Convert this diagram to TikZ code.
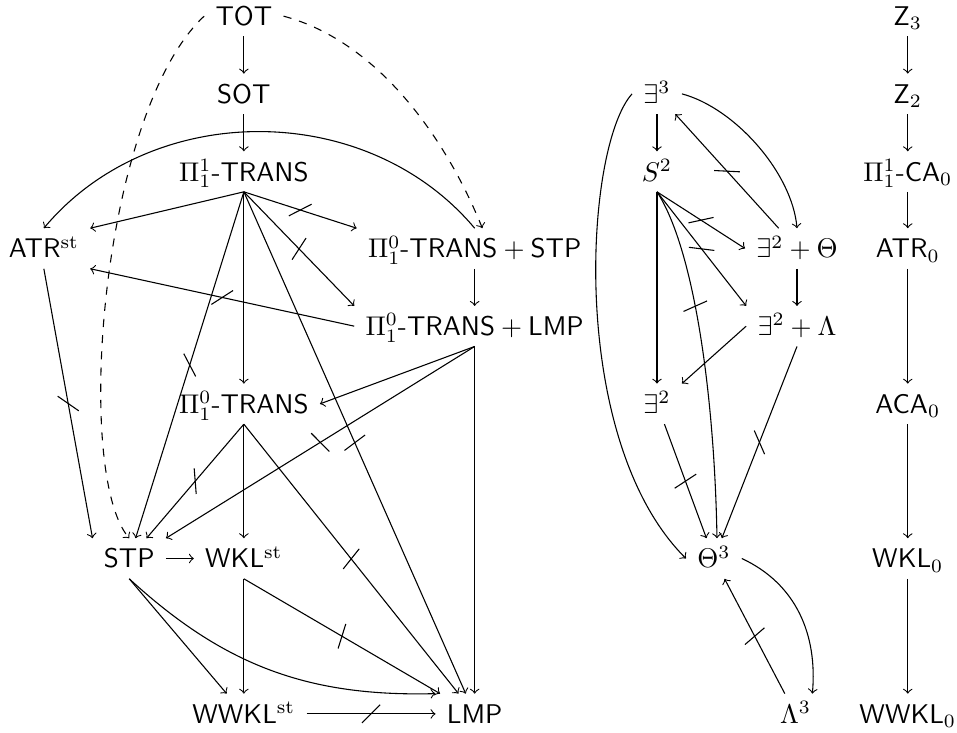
\documentclass[tikz,border=0pt]{standalone}
\usepackage{amsmath}
\usepackage{amsfonts}
\usepackage{tikz}

\tikzset{
	obj/.style={inner xsep=4pt, inner ysep=2.8pt, text height=8pt, text depth=1pt},
	cross/.style={draw, sloped, rotate=-45, inner sep=0pt, minimum width=0pt, minimum height=9.5pt, pos=0.5},
	crossb/.style={cross, rotate=58},
}

\begin{document}
\begin{tikzpicture}
	\useasboundingbox (0,0) rectangle (12.44,9.52);
	
	% left part
	\node[obj] (TOT)    at (3.17, 9.31) {\textsf{TOT}};
	\node[obj] (SOT)    at (3.17, 8.30) {\textsf{SOT}};
	\node[obj] (P11T)   at (3.17, 7.29) {$\Pi^1_1$\textsf{-TRANS}};
	\node[obj] (ATRst)  at (0.57, 6.29) {\textsf{ATR}$^{\mathrm{st}}$};
	\node[obj] (P10STP) at (6.17, 6.29) {$\Pi^0_1\textsf{-TRANS}+\textsf{STP}$};
	\node[obj] (P10LMP) at (6.17, 5.28) {$\Pi^0_1\textsf{-TRANS}+\textsf{LMP}$};
	\node[obj] (P10T)   at (3.17, 4.27) {$\Pi^0_1$\textsf{-TRANS}};
	\node[obj] (STP)    at (1.68, 2.26) {\textsf{STP}};
	\node[obj] (WKLst)  at (3.17, 2.26) {\textsf{WKL}$^{\mathrm{st}}$};
	\node[obj] (WWKLst) at (3.17, 0.24) {\textsf{WWKL}$^{\mathrm{st}}$};
	\node[obj] (LMP)    at (6.17, 0.24) {\textsf{LMP}};
	
	% middle part
	\node[obj] (E3)   at (8.54, 8.30)  {$\exists^3$};
	\node[obj] (S2)   at (8.54, 7.29)  {$S^2$};
	\node[obj] (E2Th) at (10.36, 6.29) {$\exists^2+\Theta$};
	\node[obj] (E2La) at (10.36, 5.28) {$\exists^2+\Lambda$};
	\node[obj] (E2)   at (8.54, 4.27)  {$\exists^2$};
	\node[obj] (Th3)  at (9.28, 2.26)  {$\Theta^3$};
	\node[obj] (L3)   at (10.34, 0.24) {$\Lambda^3$};
	
	% right part
	\node[obj] (Z3)    at (11.80, 9.31) {\textsf{Z}$_3$};
	\node[obj] (Z2)    at (11.80, 8.30) {\textsf{Z}$_2$};
	\node[obj] (P11CA) at (11.80, 7.29) {$\Pi^1_1$\textsf{-CA}$_0$};
	\node[obj] (ATR0)  at (11.80, 6.29) {\textsf{ATR}$_0$};
	\node[obj] (ACA0)  at (11.80, 4.27) {\textsf{ACA}$_0$};
	\node[obj] (WKL0)  at (11.80, 2.26) {\textsf{WKL}$_0$};
	\node[obj] (WWKL0) at (11.80, 0.24) {\textsf{WWKL}$_0$};
	
	\path[->] (TOT) edge (SOT);
	\path[->] (SOT) edge (P11T);
	\path[->, dashed] (TOT.east) edge[out=-15, in=112, out distance=1.31cm, in distance=1.19cm] ([xshift=0.1cm]P10STP.north);
	\path[->, dashed] (TOT.west) edge[out=223, in=130, out distance=1.83cm, in distance=1.13cm] (STP.north);
	\path[->] (P10STP.north) edge[bend right=50] (ATRst.north);
	\path[->] (P11T.south) edge (ATRst.north east);
	\path[->] (P11T.south) edge node[cross] {} (P10STP.north west);
	\path[->] (P11T.south) edge node[crossb] {} (P10LMP.north west);
	\path[->] (P11T.south) edge node[cross] {} (STP);
	\path[->] (P11T) edge (P10T);
	\path[->] (P11T.south) edge node[crossb] {} (LMP);
	\path[->] (P10STP) edge (P10LMP);
	\path[->] (P10LMP.west) edge node[cross] {} (ATRst.south east);
	\path[->] (P10LMP.south) edge (P10T.east);
	\path[->] (P10LMP.south) edge node[crossb] {} (STP.north east);
	\path[->] (P10LMP) edge (LMP);
	\path[->] (ATRst.south) edge node[cross] {} (STP.north west);
	\path[->] (P10T.south) edge node[cross] {} (STP);
	\path[->] (P10T) edge (WKLst);
	\path[->] (P10T.south) edge node[crossb] {} (LMP);
	\path[->] (STP) edge (WKLst);
	\path[->] (STP.south) edge (WWKLst);
	\path[->] (STP.south) edge[bend right=22] (LMP.north west);
	\path[->] (WKLst) edge (WWKLst);
	\path[->] (WKLst.south) edge node[crossb] {} (LMP);
	\path[->] (WWKLst) edge node[cross] {} (LMP);
	
	\path[->] (E3) edge (S2);
	\path[->] (E3.east) edge[out=-15, in=95, looseness=0.8] (E2Th.north);
	\path[->] (E2Th) edge node[cross] {} (E3);
	\path[->] (E3.west) edge[out=228, in=135, out distance=0.93cm, in distance=2.18cm] (Th3.west);
	\path[->] (S2.south) edge node[cross] {} (E2Th.west);
	\path[->] (S2.south) edge node[cross] {} (E2La.north west);
	\path[->] (S2) edge (E2);
	\path[->] (S2.south) edge[out=-57, in=91, out distance=0.91cm, in distance=1.8cm] node[crossb, pos=0.42] {} ([xshift=0.04cm]Th3.north);
	\path[->] (E2Th) edge (E2La);
	\path[->] (E2La.west) edge (E2.north east);
	\path[->] (E2) edge node[crossb] {} (Th3);
	\path[->] (E2La.south) edge node[cross] {} (Th3);
	\path[->] (Th3.east) edge[out=-25, in=85] ([xshift=0.22cm]L3.north);
	\path[->] (L3) edge node[crossb] {} (Th3);
	
	\path[->] (Z3) edge (Z2);
	\path[->] (Z2) edge (P11CA);
	\path[->] (P11CA) edge (ATR0);
	\path[->] (ATR0) edge (ACA0);
	\path[->] (ACA0) edge (WKL0);
	\path[->] (WKL0) edge (WWKL0);
	
\end{tikzpicture}
\end{document}
